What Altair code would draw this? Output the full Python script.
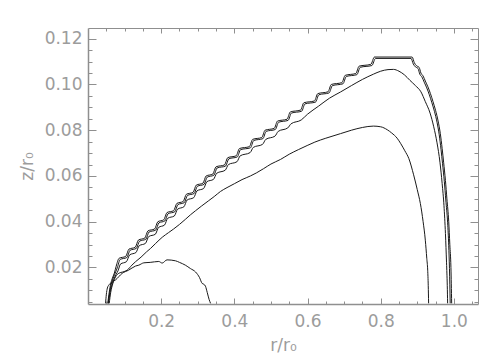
import altair as alt
import pandas as pd

# ---------------- data ----------------
# outer staircase contour A
a_r = [0.054, 0.057, 0.061, 0.066, 0.072, 0.077, 0.085, 0.103, 0.112, 0.129, 0.138, 0.155, 0.164,
       0.182, 0.191, 0.207, 0.216, 0.234, 0.243, 0.260, 0.269, 0.287, 0.296, 0.314, 0.323, 0.341,
       0.350, 0.373, 0.382, 0.405, 0.414, 0.441, 0.450, 0.475, 0.484, 0.509, 0.518, 0.544, 0.553,
       0.581, 0.590, 0.619, 0.628, 0.656, 0.665, 0.694, 0.703, 0.732, 0.741, 0.773, 0.783, 0.886,
       0.892, 0.898, 0.905, 0.910, 0.916, 0.922, 0.929, 0.936, 0.943, 0.950, 0.957, 0.963, 0.968,
       0.972, 0.977, 0.981, 0.986, 0.989, 0.992, 0.994]
a_z = [0.0043, 0.008, 0.012, 0.015, 0.0175, 0.0205, 0.024, 0.0248, 0.028, 0.0288, 0.032, 0.0328, 0.036,
       0.0368, 0.040, 0.0408, 0.044, 0.0448, 0.048, 0.0488, 0.052, 0.0528, 0.056, 0.0568, 0.060, 0.0608,
       0.064, 0.0648, 0.068, 0.0688, 0.072, 0.0728, 0.076, 0.0768, 0.080, 0.0808, 0.084, 0.0848, 0.088,
       0.0888, 0.092, 0.0928, 0.096, 0.0968, 0.100, 0.1008, 0.104, 0.1048, 0.108, 0.1088, 0.112, 0.112,
       0.1095, 0.1082, 0.1075, 0.105, 0.1037, 0.1015, 0.099, 0.096, 0.0925, 0.0887, 0.084, 0.0785, 0.072,
       0.066, 0.058, 0.050, 0.040, 0.030, 0.020, 0.0043]

# second staircase contour B
b_r = [0.055, 0.058, 0.062, 0.067, 0.073, 0.080, 0.088, 0.106, 0.115, 0.132, 0.141, 0.158, 0.167,
       0.185, 0.194, 0.210, 0.219, 0.237, 0.246, 0.263, 0.272, 0.290, 0.299, 0.317, 0.326, 0.344,
       0.353, 0.376, 0.385, 0.408, 0.417, 0.444, 0.453, 0.478, 0.487, 0.512, 0.521, 0.547, 0.556,
       0.584, 0.593, 0.622, 0.631, 0.659, 0.668, 0.697, 0.706, 0.735, 0.744, 0.776, 0.786, 0.883,
       0.889, 0.895, 0.902, 0.907, 0.913, 0.919, 0.926, 0.933, 0.940, 0.947, 0.954, 0.960, 0.965,
       0.969, 0.974, 0.978, 0.983, 0.986, 0.988, 0.990]
b_z = [0.0043, 0.0075, 0.0115, 0.0145, 0.017, 0.0198, 0.0235, 0.0243, 0.0275, 0.0283, 0.0315, 0.0323, 0.0355,
       0.0363, 0.0395, 0.0403, 0.0435, 0.0443, 0.0475, 0.0483, 0.0515, 0.0523, 0.0555, 0.0563, 0.0595, 0.0603,
       0.0635, 0.0643, 0.0675, 0.0683, 0.0715, 0.0723, 0.0755, 0.0763, 0.0795, 0.0803, 0.0835, 0.0843, 0.0875,
       0.0883, 0.0915, 0.0923, 0.0955, 0.0963, 0.0995, 0.1003, 0.1035, 0.1043, 0.1075, 0.1083, 0.1114, 0.1114,
       0.109, 0.1077, 0.107, 0.1045, 0.1032, 0.101, 0.0985, 0.0955, 0.092, 0.0882, 0.0835, 0.078, 0.0715,
       0.0655, 0.0575, 0.0495, 0.0395, 0.0295, 0.0195, 0.0043]

# contour peaking near 0.106
d_r = [0.056, 0.059, 0.064, 0.070, 0.077, 0.082, 0.089, 0.105, 0.114, 0.131, 0.140, 0.157, 0.166,
       0.184, 0.193, 0.209, 0.218, 0.236, 0.245, 0.262, 0.271, 0.289, 0.298, 0.316, 0.325, 0.343,
       0.352, 0.375, 0.384, 0.407, 0.416, 0.443, 0.452, 0.477, 0.486, 0.511, 0.520, 0.546, 0.555,
       0.583, 0.600, 0.630, 0.660, 0.690, 0.720, 0.750, 0.780, 0.800, 0.820, 0.835, 0.850, 0.865,
       0.880, 0.895, 0.910, 0.922, 0.935, 0.945, 0.954, 0.962, 0.968, 0.973, 0.977, 0.980, 0.982, 0.983]
d_z = [0.0043, 0.008, 0.0115, 0.0145, 0.017, 0.0185, 0.0215, 0.0225, 0.0255, 0.0265, 0.0295, 0.0305, 0.0335,
       0.0345, 0.0375, 0.0385, 0.0415, 0.0425, 0.0455, 0.0465, 0.0495, 0.0505, 0.0535, 0.0545, 0.0575, 0.0585,
       0.0612, 0.0625, 0.0650, 0.0662, 0.0688, 0.0702, 0.0725, 0.0738, 0.0760, 0.0774, 0.0795, 0.0810, 0.0828,
       0.0845, 0.0870, 0.0905, 0.0940, 0.0967, 0.0995, 0.1022, 0.1045, 0.1058, 0.1065, 0.1066, 0.1058, 0.1042,
       0.1018, 0.0995, 0.0968, 0.0925, 0.0875, 0.0815, 0.0745, 0.0660, 0.0567, 0.0470, 0.0348, 0.0220, 0.0120, 0.0043]

# contour peaking near 0.082
e_r = [0.058, 0.062, 0.068, 0.075, 0.085, 0.095, 0.107, 0.120, 0.130, 0.145, 0.160, 0.171, 0.185, 0.203,
       0.220, 0.234, 0.250, 0.266, 0.280, 0.294, 0.310, 0.330, 0.345, 0.362, 0.380, 0.400, 0.421, 0.444,
       0.460, 0.480, 0.500, 0.526, 0.550, 0.575, 0.599, 0.620, 0.650, 0.690, 0.720, 0.750, 0.780, 0.800,
       0.818, 0.830, 0.845, 0.855, 0.866, 0.877, 0.890, 0.900, 0.9085, 0.916, 0.922, 0.926, 0.9285, 0.930, 0.931]
e_z = [0.0043, 0.009, 0.013, 0.0158, 0.0175, 0.018, 0.0188, 0.021, 0.0225, 0.0245, 0.0268, 0.0283, 0.0305,
       0.0332, 0.0352, 0.0368, 0.0388, 0.041, 0.043, 0.0448, 0.0468, 0.0492, 0.051, 0.0532, 0.0549, 0.0566,
       0.0584, 0.0600, 0.0613, 0.0632, 0.0652, 0.0672, 0.0695, 0.0715, 0.0733, 0.0748, 0.0765, 0.0785, 0.0800,
       0.0812, 0.0818, 0.0815, 0.0802, 0.0788, 0.0765, 0.0741, 0.0710, 0.0676, 0.0605, 0.0540, 0.0479, 0.0400,
       0.0319, 0.0240, 0.0188, 0.0120, 0.0043]

# small inner contour (bump)
f_r = [0.048, 0.050, 0.053, 0.058, 0.065, 0.075, 0.0934, 0.111, 0.130, 0.139, 0.1525, 0.170, 0.1935,
       0.2027, 0.216, 0.239, 0.250, 0.266, 0.280, 0.294, 0.305, 0.312, 0.317, 0.321, 0.326, 0.331, 0.335]
f_z = [0.0043, 0.008, 0.011, 0.0125, 0.0135, 0.0145, 0.0174, 0.0188, 0.0206, 0.021, 0.022, 0.0222, 0.0226,
       0.0219, 0.0233, 0.0229, 0.0222, 0.021, 0.0195, 0.018, 0.0155, 0.013, 0.0126, 0.0118, 0.009, 0.006, 0.0043]

x_major = [0.2, 0.4, 0.6, 0.8, 1.0]
x_minor = [0.05, 0.1, 0.15, 0.25, 0.3, 0.35, 0.45, 0.5, 0.55, 0.65, 0.7, 0.75, 0.85, 0.9, 0.95, 1.05]
y_major = [0.02, 0.04, 0.06, 0.08, 0.10, 0.12]
y_minor = [0.005, 0.01, 0.015, 0.025, 0.03, 0.035, 0.045, 0.05, 0.055, 0.065, 0.07, 0.075,
           0.085, 0.09, 0.095, 0.105, 0.11, 0.115]

X_DOMAIN = [0.0, 1.066]
Y_DOMAIN = [0.004, 0.1247]
W, H = 390, 276
GREY = "#8f8f8f"
TEXT_GREY = "#9c9c9c"
FONT = "DejaVu Sans"
FS = 17

xs = alt.Scale(domain=X_DOMAIN, nice=False, zero=False)
ys = alt.Scale(domain=Y_DOMAIN, nice=False, zero=False)


def df(r, z):
    return pd.DataFrame({"r": r, "z": z, "i": list(range(len(r)))})


def tick_axis(orient, values, size, offset, domain=False):
    return alt.Axis(orient=orient, values=values, tickSize=size, ticks=True, labels=False,
                    domain=domain, grid=False, offset=offset, title=None,
                    tickColor=GREY, tickWidth=1, domainColor=GREY, domainWidth=1)


def layer(r, z, xaxis, yaxis):
    return alt.Chart(df(r, z)).mark_line(
        color="#1a1a1a", strokeWidth=1, interpolate="monotone", clip=True
    ).encode(
        x=alt.X("r:Q", scale=xs, axis=xaxis),
        y=alt.Y("z:Q", scale=ys, axis=yaxis),
        order="i:Q",
    )


label_x = alt.Axis(orient="bottom", values=x_major, format=".1f", ticks=False, tickSize=0,
                   labelPadding=9, grid=False, domain=True, domainColor=GREY, domainWidth=1.5,
                   labelColor=TEXT_GREY, labelFont=FONT, labelFontSize=FS, labelFontWeight="normal",
                   title="r/r\u2080", titleColor=TEXT_GREY, titleFont=FONT, titleFontSize=FS,
                   titleFontWeight="normal", titlePadding=8)
label_y = alt.Axis(orient="left", values=y_major, format=".2f", ticks=False, tickSize=0,
                   labelPadding=6, grid=False, domain=True, domainColor=GREY, domainWidth=1.5,
                   labelColor=TEXT_GREY, labelFont=FONT, labelFontSize=FS, labelFontWeight="normal",
                   title="z/r\u2080", titleColor=TEXT_GREY, titleFont=FONT, titleFontSize=FS,
                   titleFontWeight="normal", titlePadding=8)

chart = alt.layer(
    layer(a_r, a_z, label_x, label_y),
    # inward ticks on bottom / left edges
    layer(b_r, b_z, tick_axis("top", x_major, 6, -H), tick_axis("right", y_major, 8, -W)),
    layer(d_r, d_z, tick_axis("top", x_minor, 3, -H), tick_axis("right", y_minor, 4, -W)),
    # box edges top / right with inward ticks
    layer(e_r, e_z, tick_axis("bottom", x_major, 5, -H, True), tick_axis("left", y_major, 8, -W, True)),
    layer(f_r, f_z, tick_axis("bottom", x_minor, 3, -H), tick_axis("left", y_minor, 4, -W)),
).resolve_axis(
    x="independent", y="independent"
).properties(
    width=W, height=H,
    autosize=alt.AutoSizeParams(type="none"),
    padding={"left": 80, "top": 20, "right": 10, "bottom": 52},
).configure_view(stroke=None)

chart.save("out.html", embed_options={"renderer": "svg", "actions": False})
